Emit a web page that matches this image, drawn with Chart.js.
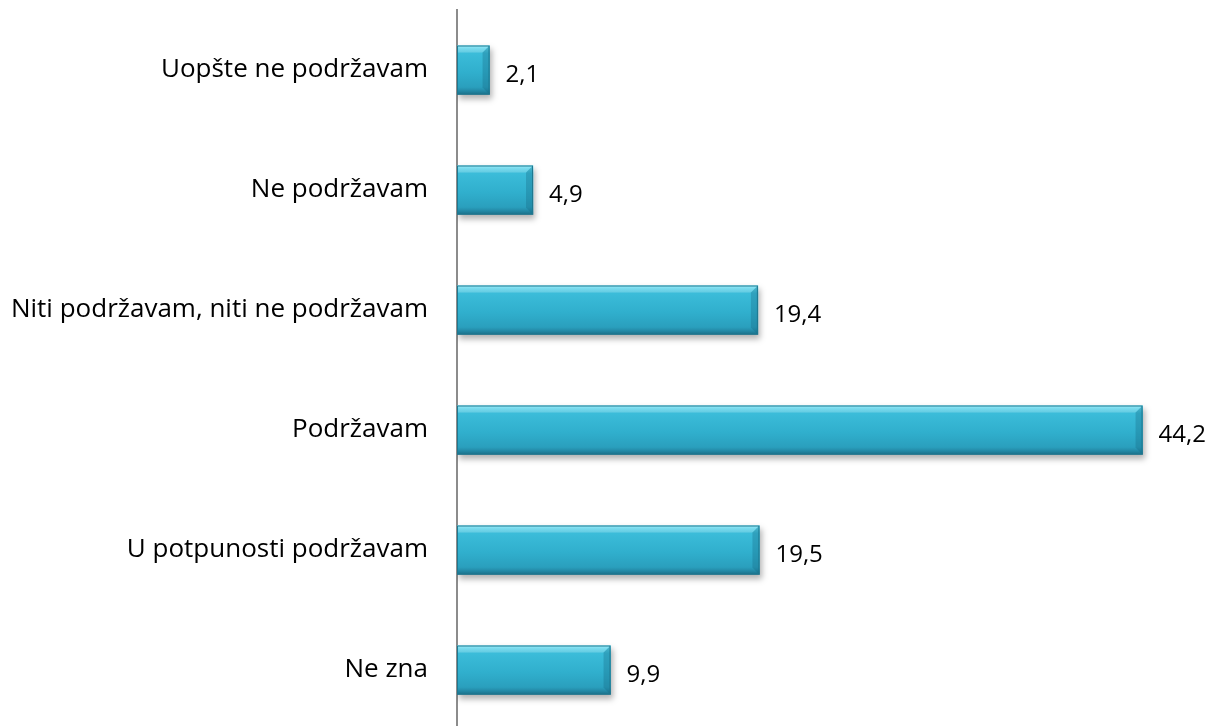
<!DOCTYPE html>
<html>
<head>
<meta charset="utf-8">
<script src="https://cdn.jsdelivr.net/npm/chart.js@4/dist/chart.umd.min.js"></script>
<style>
  html, body { margin: 0; padding: 0; background: #fff; overflow: hidden; }
  canvas { display: block; }
</style>
</head>
<body>
<canvas id="c" width="1222" height="730"></canvas>
<script>
const categories = [
    'Uopšte ne podržavam',
    'Ne podržavam',
    'Niti podržavam, niti ne podržavam',
    'Podržavam',
    'U potpunosti podržavam',
    'Ne zna'
];
const values = [2.1, 4.9, 19.4, 44.2, 19.5, 9.9];

const BAR_H = 49;

// vertical gradient per bar, built from the bar's own category pixel
function barFill(context) {
    const chart = context.chart;
    const y = chart.scales && chart.scales.y;
    if (!chart.chartArea || !y || context.dataIndex === undefined) return '#30aecc';
    const cy = y.getPixelForValue(context.dataIndex);
    const g = chart.ctx.createLinearGradient(0, cy - BAR_H / 2, 0, cy + BAR_H / 2);
    g.addColorStop(0, '#86e9f8');
    g.addColorStop(0.06, '#5cd3ea');
    g.addColorStop(0.16, '#3bbcd9');
    g.addColorStop(0.55, '#30afcd');
    g.addColorStop(0.85, '#2a9fbd');
    g.addColorStop(0.93, '#2388a5');
    g.addColorStop(1, '#1b6f88');
    return g;
}

const shadowPlugin = {
    id: 'shadow',
    beforeDatasetDraw(chart) {
        const ctx = chart.ctx;
        ctx.save();
        ctx.shadowColor = 'rgba(0,0,0,0.3)';
        ctx.shadowBlur = 6;
        ctx.shadowOffsetX = 2;
        ctx.shadowOffsetY = 4;
    },
    afterDatasetDraw(chart) {
        chart.ctx.restore();
    }
};

// bevel on the bar ends
const bevelPlugin = {
    id: 'bevel',
    afterDatasetsDraw(chart) {
        const ctx = chart.ctx;
        const meta = chart.getDatasetMeta(0);
        const b = 7;
        meta.data.forEach(bar => {
            const x0 = bar.base, x1 = bar.x;
            const y0 = bar.y - BAR_H / 2, y1 = bar.y + BAR_H / 2;
            ctx.save();
            ctx.fillStyle = 'rgba(20,100,125,0.3)';
            ctx.beginPath();
            ctx.moveTo(x1, y0); ctx.lineTo(x1, y1); ctx.lineTo(x1 - b, y1 - b); ctx.lineTo(x1 - b, y0 + b);
            ctx.closePath(); ctx.fill();
            ctx.fillStyle = 'rgba(255,255,255,0.18)';
            ctx.beginPath();
            ctx.moveTo(x0, y0); ctx.lineTo(x1, y0); ctx.lineTo(x1 - b, y0 + b); ctx.lineTo(x0, y0 + b);
            ctx.closePath(); ctx.fill();
            ctx.strokeStyle = '#1e7890';
            ctx.lineWidth = 1;
            ctx.strokeRect(x0 + 0.5, y0 + 0.5, x1 - x0 - 1, BAR_H - 1);
            ctx.restore();
        });
    }
};

const valueLabels = {
    id: 'valueLabels',
    afterDatasetsDraw(chart) {
        const ctx = chart.ctx;
        const meta = chart.getDatasetMeta(0);
        ctx.save();
        ctx.font = '24px "Open Sans", sans-serif';
        ctx.fillStyle = '#000';
        ctx.textAlign = 'left';
        ctx.textBaseline = 'middle';
        meta.data.forEach((bar, i) => {
            const txt = values[i].toFixed(1).replace('.', ',');
            ctx.fillText(txt, bar.x + 16, bar.y + 5);
        });
        ctx.restore();
    }
};

new Chart(document.getElementById('c'), {
    type: 'bar',
    data: {
        labels: categories,
        datasets: [{
            data: values,
            backgroundColor: barFill,
            borderWidth: 0,
            barThickness: BAR_H
        }]
    },
    options: {
        indexAxis: 'y',
        responsive: false,
        animation: false,
        layout: { padding: { top: 10, right: 5, bottom: 0, left: 0 } },
        plugins: { legend: { display: false }, tooltip: { enabled: false } },
        scales: {
            x: {
                min: 0,
                max: 49,
                display: false
            },
            y: {
                grid: { display: false, drawTicks: false },
                border: { display: true, color: '#8c8c8c', width: 2 },
                ticks: {
                    color: '#000',
                    padding: 29,
                    font: { family: '"Open Sans", sans-serif', size: 26 }
                },
                afterFit(scale) {
                    scale.width = 457;
                    scale.paddingTop = 0;
                    scale.paddingBottom = 0;
                }
            }
        }
    },
    plugins: [shadowPlugin, bevelPlugin, valueLabels]
});
</script>
</body>
</html>
